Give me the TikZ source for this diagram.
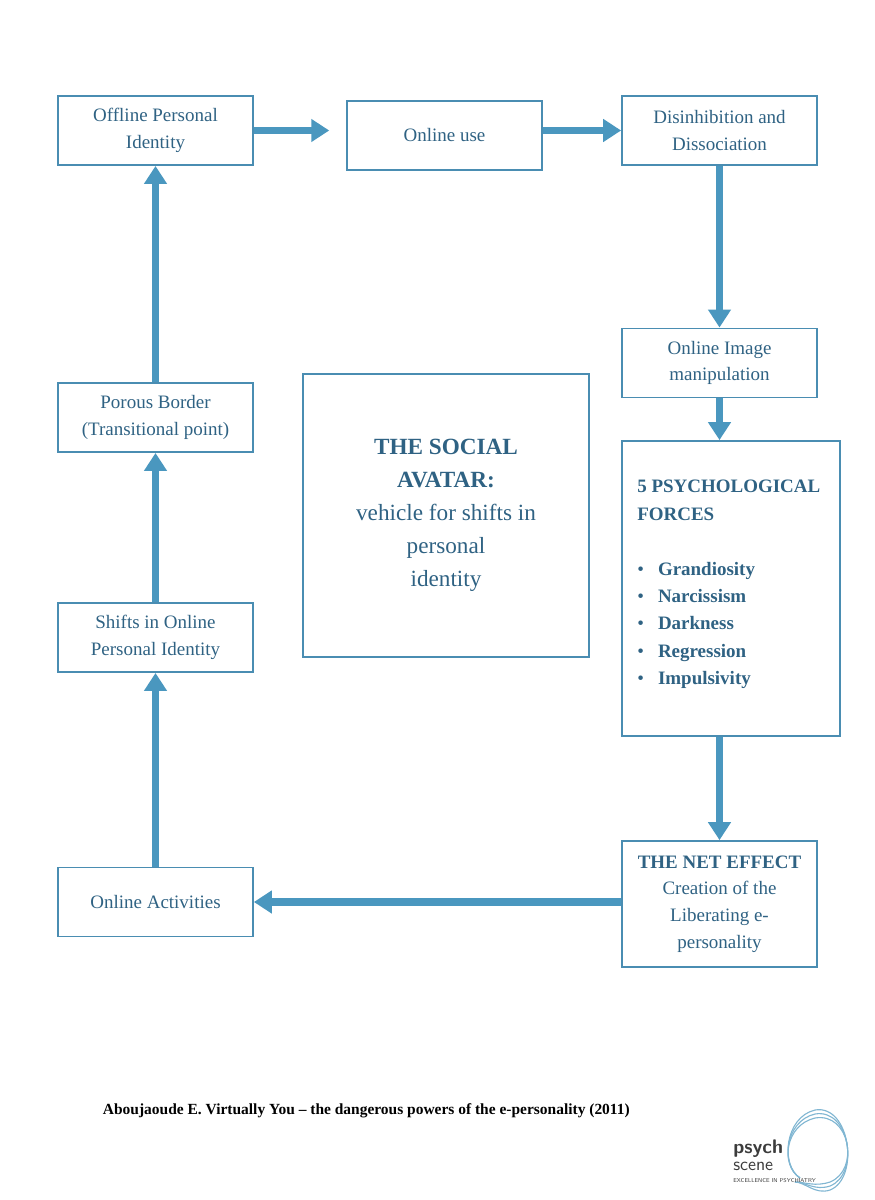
\documentclass[tikz,border=0pt]{standalone}
\usepackage{fontspec}
\setmainfont{Liberation Serif}
\usetikzlibrary{arrows.meta,positioning}
\definecolor{boxline}{HTML}{4A8DB2}
\definecolor{arrowblue}{HTML}{4A97BF}
\definecolor{textblue}{HTML}{2F6283}
\definecolor{logogrey}{HTML}{3C3C3C}
\tikzset{
  box/.style={draw=boxline, line width=1.2pt, text=textblue, align=center,
    minimum width=4.875cm, minimum height=1.73cm, font=\fontsize{13.5}{19}\selectfont},
  flow/.style={draw=arrowblue, line width=5pt, -{Triangle[length=0.45cm,width=0.55cm]}}
}
\begin{document}
\begin{tikzpicture}[x=0.025cm,y=-0.025cm]
  \useasboundingbox (0,0) rectangle (874,1200);
  % boxes
  \node[box] (offline) at (155.5,130.5) {Offline Personal\\Identity};
  \node[box] (online) at (444.5,135.5) {Online use};
  \node[box] (disinh) at (719.5,130.5) {Disinhibition and\\Dissociation};
  \node[box] (image) at (719.5,363) {Online Image\\manipulation};
  \node[box, minimum width=5.45cm, minimum height=7.375cm] (forces) at (731,588.5) {};
  \node[box, minimum height=3.15cm] (net) at (719.5,904) {\textbf{THE NET EFFECT}\\Creation of the\\Liberating e-\\personality};
  \node[box] (activities) at (155.5,902) {Online Activities};
  \node[box] (shifts) at (155.5,637.5) {Shifts in Online\\Personal Identity};
  \node[box] (porous) at (155.5,417.5) {Porous Border\\(Transitional point)};
  \node[box, minimum width=7.15cm, minimum height=7.075cm, font=\fontsize{16.5}{23.5}\selectfont] (avatar) at (446,515.5)
    {\textbf{THE SOCIAL}\\\textbf{AVATAR:}\\vehicle for shifts in\\personal\\identity};
  % forces text
  \node[anchor=north west, text=textblue, align=left, inner sep=0pt,
        font=\fontsize{13.5}{19.5}\selectfont] (forcestext) at (637,480)
    {\textbf{5 PSYCHOLOGICAL}\\\textbf{FORCES}\\[19.5pt]
     \textbullet\hspace{10pt}\textbf{Grandiosity}\\
     \textbullet\hspace{10pt}\textbf{Narcissism}\\
     \textbullet\hspace{10pt}\textbf{Darkness}\\
     \textbullet\hspace{10pt}\textbf{Regression}\\
     \textbullet\hspace{10pt}\textbf{Impulsivity}};
  % arrows
  \coordinate (a1) at (offline.east |- 0,130.5);
  \coordinate (a2) at (online.west |- 0,130.5);
  \draw[flow, shorten >=12pt] (a1) -- (a2);
  \draw[flow] (online.east |- 0,130.5) -- (disinh.west);
  \draw[flow] (disinh) -- (image);
  \draw[flow] (image) -- (image |- forces.north);
  \draw[flow] (net.north |- forces.south) -- (net);
  \draw[flow] (net.west |- activities.east) -- (activities.east);
  \draw[flow] (activities) -- (shifts);
  \draw[flow] (shifts) -- (porous);
  \draw[flow] (porous) -- (offline);
  % citation
  \node[anchor=west, font=\bfseries\fontsize{11}{13}\selectfont] (cite) at (98,1111)
    {Aboujaoude E. Virtually You -- the dangerous powers of the e-personality (2011)};
  % logo
  \begin{scope}[draw=arrowblue!70, line width=0.8pt]
    \foreach \r in {0,4,8} {
      \draw (800,1178) .. controls (780,1165) and (785,1125-\r) .. (815,1118-\r)
        .. controls (850,1112-\r) and (860,1170+\r) .. (830,1182+\r)
        .. controls (815,1187+\r) and (805,1182) .. (795,1182);
    }
  \end{scope}
  \node[anchor=south west, inner sep=0pt, text=logogrey, font=\sffamily\bfseries\fontsize{14}{14}\selectfont] (psych) at (733,1158) {psych};
  \node[anchor=north west, inner sep=0pt, text=logogrey, font=\sffamily\fontsize{13}{13}\selectfont] (scene) at (733,1162) {scene};
  \node[anchor=north west, inner sep=0pt, text=logogrey, font=\sffamily\fontsize{4}{4}\selectfont] (excel) at (733,1178) {EXCELLENCE IN PSYCHIATRY};
\end{tikzpicture}
\end{document}
